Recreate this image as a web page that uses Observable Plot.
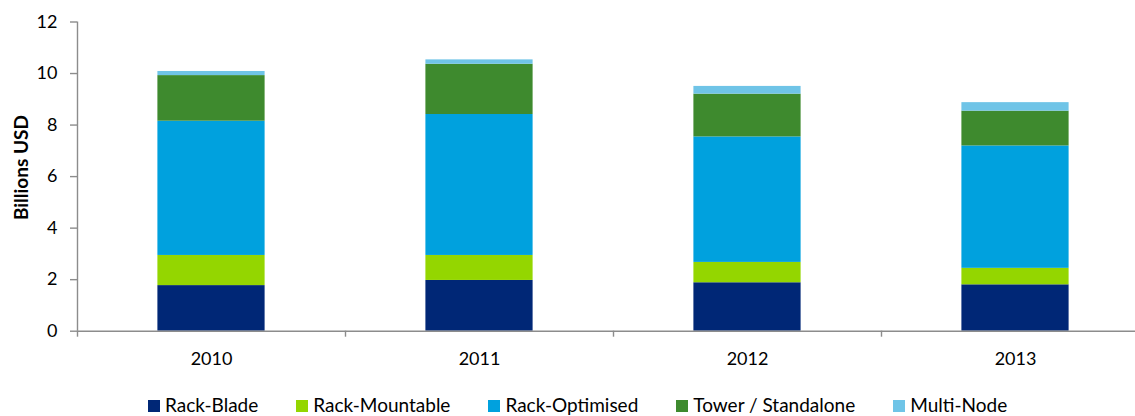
<!DOCTYPE html>
<html><head><meta charset="utf-8">
<script src="https://cdn.jsdelivr.net/npm/d3@7"></script>
<script src="https://cdn.jsdelivr.net/npm/@observablehq/plot@0.6"></script>
<style>
html,body{margin:0;padding:0;background:#fff;overflow:hidden;width:1135px;height:416px}
#chart{position:absolute;left:0;top:0}
#chart svg{max-width:none !important}
#legend{position:absolute;left:148px;top:396px;display:flex;align-items:baseline;gap:38px;font-family:Lato,sans-serif;font-size:19px;line-height:18px;color:#000;white-space:nowrap}
.item{display:flex;align-items:baseline;gap:5px}
.sw{width:12px;height:12px;display:inline-block}
</style></head><body>
<div id="chart"></div><div id="legend"></div>
<script>
const years = ["2010", "2011", "2012", "2013"];
const series = ["Rack-Blade", "Rack-Mountable", "Rack-Optimised", "Tower / Standalone", "Multi-Node"];
const colors = ["#002776", "#94d600", "#00a1de", "#3e8a2e", "#6fc4e7"];
const rackBlade = [1.77, 1.97, 1.88, 1.80];
const rackMountable = [1.17, 0.97, 0.79, 0.64];
const rackOptimised = [5.21, 5.47, 4.87, 4.75];
const towerStandalone = [1.77, 1.95, 1.66, 1.35];
const multiNode = [0.16, 0.17, 0.30, 0.33];
const yTicks = [0, 2, 4, 6, 8, 10, 12];
const yLabel = "Billions USD";

const values = [rackBlade, rackMountable, rackOptimised, towerStandalone, multiNode];
const rows = years.flatMap((yr, i) => series.map((s, k) => ({i, year: yr, series: s, value: values[k][i]})));
const boundaries = d3.range(years.length + 1);
const centers = years.map((_, i) => i + 0.5);
const axisColor = "#8c8c8c";

const chart = Plot.plot({
  width: 1149, height: 380,
  marginLeft: 77, marginRight: 0, marginTop: 21.5, marginBottom: 49.3,
  x: {domain: [0, years.length], axis: null},
  y: {domain: [0, 12], axis: null},
  color: {domain: series, range: colors},
  style: {fontFamily: "Lato, sans-serif", fontSize: "18px", color: "#000", background: "#fff", maxWidth: "none"},
  marks: [
    Plot.rectY(rows, Plot.stackY({x: "i", x1: d => d.i + 0.3, x2: d => d.i + 0.7, y: "value", fill: "series", order: series})),
    Plot.ruleX([0], {stroke: axisColor, strokeWidth: 1.4}),
    Plot.ruleY([0], {stroke: axisColor, strokeWidth: 1.4}),
    Plot.axisY({ticks: yTicks, tickSize: 7, tickPadding: 13, label: null, stroke: axisColor, strokeWidth: 1.4, strokeOpacity: 1, fontSize: 18, fill: "#000"}),
    Plot.axisX({ticks: boundaries, tickSize: 6, tickFormat: () => "", label: null, stroke: axisColor, strokeWidth: 1.4, strokeOpacity: 1}),
    Plot.axisX({ticks: centers, tickSize: 0, tickPadding: 21, tickFormat: t => years[Math.floor(t)], label: null, fontSize: 18, fill: "#000"}),
    Plot.text([yLabel], {frameAnchor: "left", textAnchor: "middle", lineAnchor: "middle", rotate: -90, dx: -55.8, dy: -9, fontWeight: "bold", fontSize: 19, fill: "#000"})
  ]
});
chart.style.maxWidth = "none";
document.getElementById("chart").appendChild(chart);

const legend = document.getElementById("legend");
series.forEach((s, k) => {
  const it = document.createElement("div");
  it.className = "item";
  const sw = document.createElement("span");
  sw.className = "sw";
  sw.style.background = colors[k];
  const tx = document.createElement("span");
  tx.textContent = s;
  it.appendChild(sw); it.appendChild(tx);
  legend.appendChild(it);
});
</script>
</body></html>
